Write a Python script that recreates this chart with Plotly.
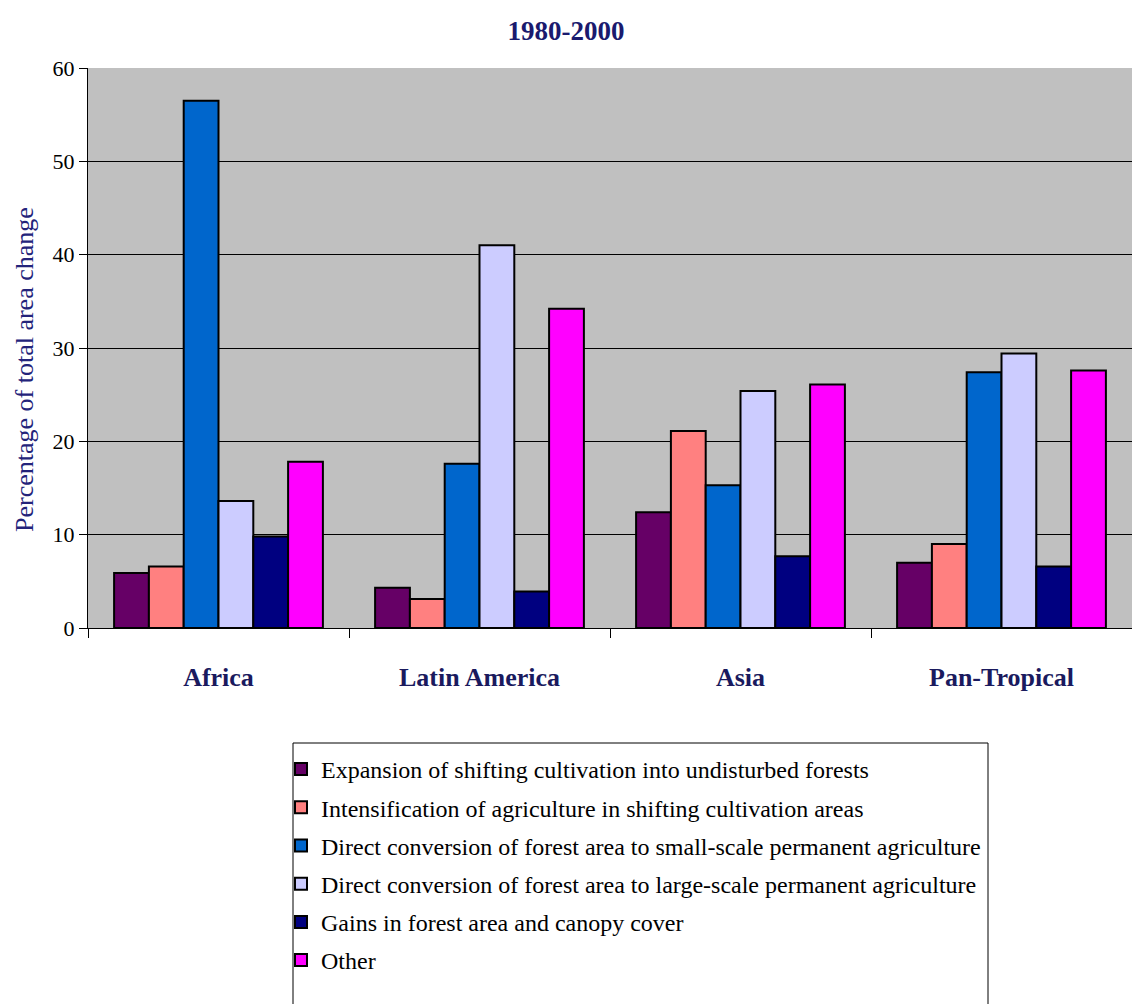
import plotly.graph_objects as go

categories = ["Africa", "Latin America", "Asia", "Pan-Tropical"]
series_names = [
    "Expansion of shifting cultivation into undisturbed forests",
    "Intensification of agriculture in shifting cultivation areas",
    "Direct conversion of forest area to small-scale permanent agriculture",
    "Direct conversion of forest area to large-scale permanent agriculture",
    "Gains in forest area and canopy cover",
    "Other",
]
expansion = [5.9, 4.3, 12.4, 7.0]
intensification = [6.6, 3.1, 21.1, 9.0]
small_scale = [56.5, 17.6, 15.3, 27.4]
large_scale = [13.6, 41.0, 25.4, 29.4]
gains = [9.8, 3.9, 7.7, 6.6]
other = [17.8, 34.2, 26.1, 27.6]
series_values = [expansion, intensification, small_scale, large_scale, gains, other]
colors = ["#660066", "#FF8080", "#0066CC", "#CCCCFF", "#000080", "#FF00FF"]

serif = "Liberation Serif, Times New Roman, serif"

W, H = 1132, 1004
ML, MR, MT, MB = 88, 0, 68, 376
PW, PH = W - ML - MR, H - MT - MB

def px_x(x):
    return (x - ML) / PW

def px_y(y):
    return (H - MB - y) / PH

fig = go.Figure()
for i, (name, vals) in enumerate(zip(series_names, series_values)):
    fig.add_trace(go.Bar(
        x=categories, y=vals, name=name,
        marker=dict(color=colors[i], line=dict(color="black", width=2)),
        legendgroup=f"g{i}",
    ))

# legend frame
fig.add_shape(type="rect", xref="paper", yref="paper",
              x0=px_x(293), x1=px_x(988), y0=px_y(1012), y1=px_y(743),
              line=dict(color="black", width=1), fillcolor="white", layer="below")

# y axis title
fig.add_annotation(text="Percentage of total area change", xref="paper", yref="paper",
                   x=px_x(24), y=px_y(370), textangle=-90, showarrow=False,
                   xanchor="center", yanchor="middle",
                   font=dict(family=serif, size=26, color="#23237a"))

fig.update_layout(
    width=W, height=H,
    margin=dict(l=ML, r=MR, t=MT, b=MB, autoexpand=False),
    paper_bgcolor="white",
    plot_bgcolor="#C0C0C0",
    barmode="group",
    bargap=0.2,
    bargroupgap=0,
    title=dict(text="<b>1980-2000</b>", x=0.5, xref="container", xanchor="center",
               y=1 - 31 / H, yanchor="middle",
               font=dict(family=serif, size=27, color="#1a1a6e")),
    font=dict(family=serif, color="black"),
    showlegend=True,
    legend=dict(
        xref="container", yref="container",
        x=(293 - 12) / W, y=1 - 747 / H, xanchor="left", yanchor="top",
        borderwidth=0, bgcolor="rgba(0,0,0,0)",
        font=dict(family=serif, size=24, color="black"),
        tracegroupgap=4,
        itemclick=False,
    ),
)

fig.update_xaxes(
    range=[-0.5, 3.5],
    tickson="boundaries",
    ticks="outside", ticklen=9, tickcolor="black",
    showgrid=False,
    showline=True, linecolor="black", linewidth=1,
    tickangle=0,
    tickfont=dict(family=serif, size=26, color="#1a1a5e"),
    tickprefix="<b>", ticksuffix="</b>",
    ticklabelstandoff=26,
)
fig.update_yaxes(
    range=[0, 60], dtick=10,
    showgrid=True, gridcolor="black", gridwidth=1,
    showline=True, linecolor="black", linewidth=1,
    ticks="outside", ticklen=8, tickcolor="black",
    tickfont=dict(family=serif, size=22, color="black"),
    zeroline=False,
)

fig.write_html("out.html")
